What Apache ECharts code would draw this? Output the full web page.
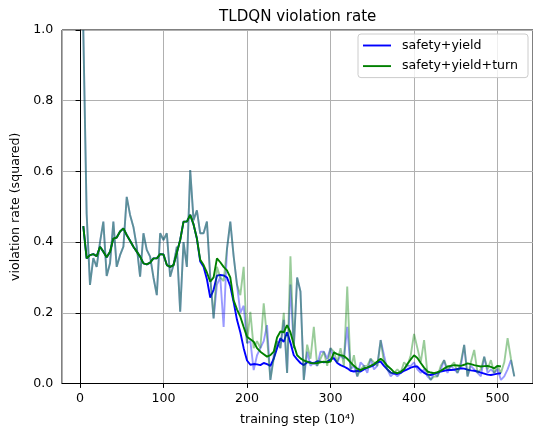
<!DOCTYPE html>
<html><head><meta charset="utf-8">
<script src="https://cdn.jsdelivr.net/npm/echarts@6/dist/echarts.min.js"></script>
<style>html,body{margin:0;padding:0;background:#fff}#c{width:533px;height:434px}</style>
</head><body><div id="c"></div>
<script>
// training steps (x, in 10^4)
const steps = [4,8,12,16,20,24,28,32,36,40,44,48,52,56,60,64,68,72,76,80,
84,88,92,96,100,104,108,112,116,120,124,128,132,136,140,144,148,152,156,160,
164,168,172,176,180,184,188,192,196,200,204,208,212,216,220,224,228,232,236,240,
244,248,252,256,260,264,268,272,276,280,284,288,292,296,300,304,308,312,316,320,
324,328,332,336,340,344,348,352,356,360,364,368,372,376,380,384,388,392,396,400,
404,408,412,416,420,424,428,432,436,440,444,448,452,456,460,464,468,472,476,480,
484,488,492,496,500,504,508,512,516,520];

// raw (unsmoothed) violation rates
const rawBlue = [1.0,0.48,0.279,0.355,0.33,0.40,0.458,0.304,0.34,0.458,
0.33,0.363,0.387,0.528,0.477,0.443,0.387,0.302,0.425,0.378,
0.359,0.30,0.25,0.425,0.406,0.425,0.302,0.335,0.387,0.203,
0.40,0.33,0.604,0.462,0.49,0.425,0.425,0.458,0.30,0.184,
0.28,0.30,0.16,0.38,0.458,0.36,0.28,0.20,0.22,0.114,
0.12,0.038,0.08,0.10,0.12,0.165,0.01,0.08,0.12,0.10,
0.18,0.03,0.28,0.10,0.30,0.26,0.01,0.09,0.05,0.06,
0.05,0.09,0.09,0.07,0.10,0.07,0.06,0.08,0.07,0.16,
0.04,0.05,0.02,0.06,0.05,0.03,0.07,0.04,0.05,0.123,
0.08,0.04,0.02,0.03,0.02,0.03,0.04,0.05,0.05,0.06,
0.04,0.03,0.04,0.02,0.01,0.03,0.02,0.04,0.066,0.03,
0.05,0.04,0.03,0.05,0.109,0.02,0.05,0.04,0.03,0.02,
0.076,0.03,0.04,0.03,0.04,0.01,0.02,0.04,0.066,0.02];

const rawGreen = [1.0,0.48,0.279,0.355,0.33,0.40,0.458,0.304,0.34,0.458,
0.33,0.363,0.387,0.528,0.477,0.443,0.387,0.302,0.425,0.378,
0.359,0.30,0.25,0.425,0.406,0.425,0.302,0.335,0.387,0.203,
0.40,0.33,0.604,0.462,0.49,0.425,0.425,0.458,0.30,0.184,
0.33,0.30,0.29,0.38,0.458,0.36,0.28,0.25,0.33,0.114,
0.203,0.10,0.12,0.10,0.227,0.13,0.01,0.07,0.12,0.10,
0.20,0.03,0.36,0.10,0.30,0.26,0.01,0.11,0.07,0.16,
0.05,0.07,0.09,0.05,0.10,0.09,0.06,0.10,0.05,0.274,
0.04,0.08,0.02,0.04,0.05,0.05,0.07,0.06,0.05,0.123,
0.06,0.04,0.03,0.03,0.04,0.03,0.06,0.05,0.08,0.14,
0.10,0.06,0.123,0.03,0.01,0.02,0.02,0.05,0.066,0.04,
0.05,0.06,0.03,0.06,0.109,0.02,0.06,0.095,0.03,0.04,
0.076,0.04,0.066,0.03,0.05,0.03,0.06,0.128,0.07,0.02];

// smoothed curves (x = steps[0..125])
const smoothBlue = [0.445,0.354,0.363,0.366,0.36,0.387,0.373,0.357,0.373,0.41,
0.413,0.43,0.439,0.42,0.404,0.387,0.373,0.359,0.34,0.337,
0.342,0.354,0.354,0.366,0.365,0.335,0.33,0.335,0.37,0.406,
0.458,0.458,0.477,0.45,0.41,0.345,0.33,0.295,0.243,0.265,
0.305,0.307,0.306,0.30,0.275,0.23,0.18,0.145,0.10,0.065,
0.053,0.055,0.054,0.052,0.058,0.055,0.05,0.07,0.10,0.128,
0.118,0.145,0.115,0.08,0.068,0.058,0.052,0.06,0.06,0.057,
0.063,0.062,0.06,0.062,0.068,0.072,0.058,0.052,0.048,0.043,
0.036,0.034,0.036,0.034,0.04,0.045,0.048,0.052,0.06,0.062,
0.05,0.04,0.031,0.028,0.027,0.03,0.036,0.04,0.045,0.048,
0.048,0.038,0.03,0.025,0.024,0.027,0.03,0.034,0.036,0.038,
0.038,0.039,0.041,0.043,0.042,0.039,0.037,0.036,0.034,0.031,
0.028,0.025,0.024,0.026,0.028,0.029];

const smoothGreen = [0.445,0.354,0.363,0.366,0.36,0.387,0.373,0.357,0.373,0.41,
0.413,0.43,0.439,0.42,0.404,0.387,0.373,0.359,0.34,0.337,
0.342,0.354,0.354,0.366,0.365,0.335,0.33,0.335,0.37,0.406,
0.458,0.458,0.477,0.45,0.41,0.35,0.335,0.314,0.288,0.30,
0.354,0.343,0.33,0.32,0.30,0.235,0.21,0.189,0.16,0.132,
0.125,0.118,0.10,0.09,0.083,0.076,0.08,0.09,0.13,0.147,
0.145,0.165,0.145,0.11,0.08,0.071,0.065,0.062,0.058,0.057,
0.058,0.06,0.062,0.06,0.062,0.088,0.083,0.08,0.078,0.07,
0.06,0.05,0.042,0.038,0.043,0.045,0.05,0.055,0.062,0.07,
0.062,0.05,0.042,0.032,0.029,0.033,0.04,0.055,0.068,0.08,
0.072,0.058,0.045,0.034,0.031,0.029,0.032,0.036,0.042,0.048,
0.05,0.052,0.051,0.05,0.053,0.057,0.055,0.052,0.05,0.048,
0.049,0.05,0.047,0.043,0.05,0.048];

const seriesNames = ['safety+yield', 'safety+yield+turn'];
const yTicks = [0, 0.2, 0.4, 0.6, 0.8, 1.0];

const FONT = 'DejaVu Sans';
const pair = arr => arr.map((v, i) => [steps[i], v]);

const chart = echarts.init(document.getElementById('c'), null, {renderer: 'canvas'});
chart.setOption({
  animation: false,
  backgroundColor: '#fff',
  title: {
    text: 'TLDQN violation rate', left: 219, top: 10, padding: 0,
    textStyle: {fontFamily: FONT, fontSize: 15.1, fontWeight: 'normal', color: '#000'}
  },
  grid: {left: 62, top: 30, right: -1, bottom: 50.5, show: true, borderColor: '#000', borderWidth: 1, backgroundColor: 'transparent'},
  xAxis: {
    type: 'value', min: -21.5, max: 542.4, minInterval: 100, maxInterval: 100,
    axisLine: {show: true, onZero: false, lineStyle: {color: '#000', width: 1}},
    axisTick: {show: true, length: 4.4, lineStyle: {color: '#000', width: 1}},
    axisLabel: {showMinLabel: false, showMaxLabel: false, margin: 9, fontFamily: FONT, fontSize: 12.6, color: '#000'},
    splitLine: {show: true, lineStyle: {color: '#b0b0b0', width: 1}},
    name: 'training step (10⁴)', nameLocation: 'middle', nameGap: 30,
    nameTextStyle: {fontFamily: FONT, fontSize: 12.6, color: '#000'}
  },
  yAxis: {
    type: 'value', min: yTicks[0], max: yTicks[yTicks.length - 1], interval: 0.2,
    axisLine: {show: true, lineStyle: {color: '#000', width: 1}},
    axisTick: {show: true, length: 4.4, lineStyle: {color: '#000', width: 1}},
    axisLabel: {margin: 8.7, fontFamily: FONT, fontSize: 12.6, color: '#000', formatter: v => v.toFixed(1)},
    splitLine: {show: true, lineStyle: {color: '#b0b0b0', width: 1}},
    name: 'violation rate (squared)', nameLocation: 'middle', nameGap: 35,
    nameTextStyle: {fontFamily: FONT, fontSize: 12.6, color: '#000'}
  },
  legend: {
    data: seriesNames, orient: 'vertical', left: 358, top: 34,
    icon: 'path://M0,0 H280 V19 H0 Z', symbolKeepAspect: true,
    padding: [5, 10, 5, 5], itemGap: 7.6, itemWidth: 28, itemHeight: 14,
    backgroundColor: 'rgba(255,255,255,0.8)', borderColor: '#cccccc', borderWidth: 1, borderRadius: 3,
    textStyle: {fontFamily: FONT, fontSize: 12.6, color: '#000', padding: [0, 0, 0, 6]}
  },
  series: [
    {name: 'raw ' + seriesNames[0], type: 'line', data: pair(rawBlue), symbol: 'none', z: 2,
     lineStyle: {color: '#0000ff', width: 1.9, opacity: 0.4}, itemStyle: {color: '#0000ff'}},
    {name: seriesNames[0], type: 'line', data: pair(smoothBlue), symbol: 'none', z: 3,
     lineStyle: {color: '#0000ff', width: 1.9}, itemStyle: {color: '#0000ff'}},
    {name: 'raw ' + seriesNames[1], type: 'line', data: pair(rawGreen), symbol: 'none', z: 4,
     lineStyle: {color: '#008000', width: 1.9, opacity: 0.4}, itemStyle: {color: '#008000'}},
    {name: seriesNames[1], type: 'line', data: pair(smoothGreen), symbol: 'none', z: 5,
     lineStyle: {color: '#008000', width: 1.9}, itemStyle: {color: '#008000'}}
  ]
});
</script>
</body></html>
